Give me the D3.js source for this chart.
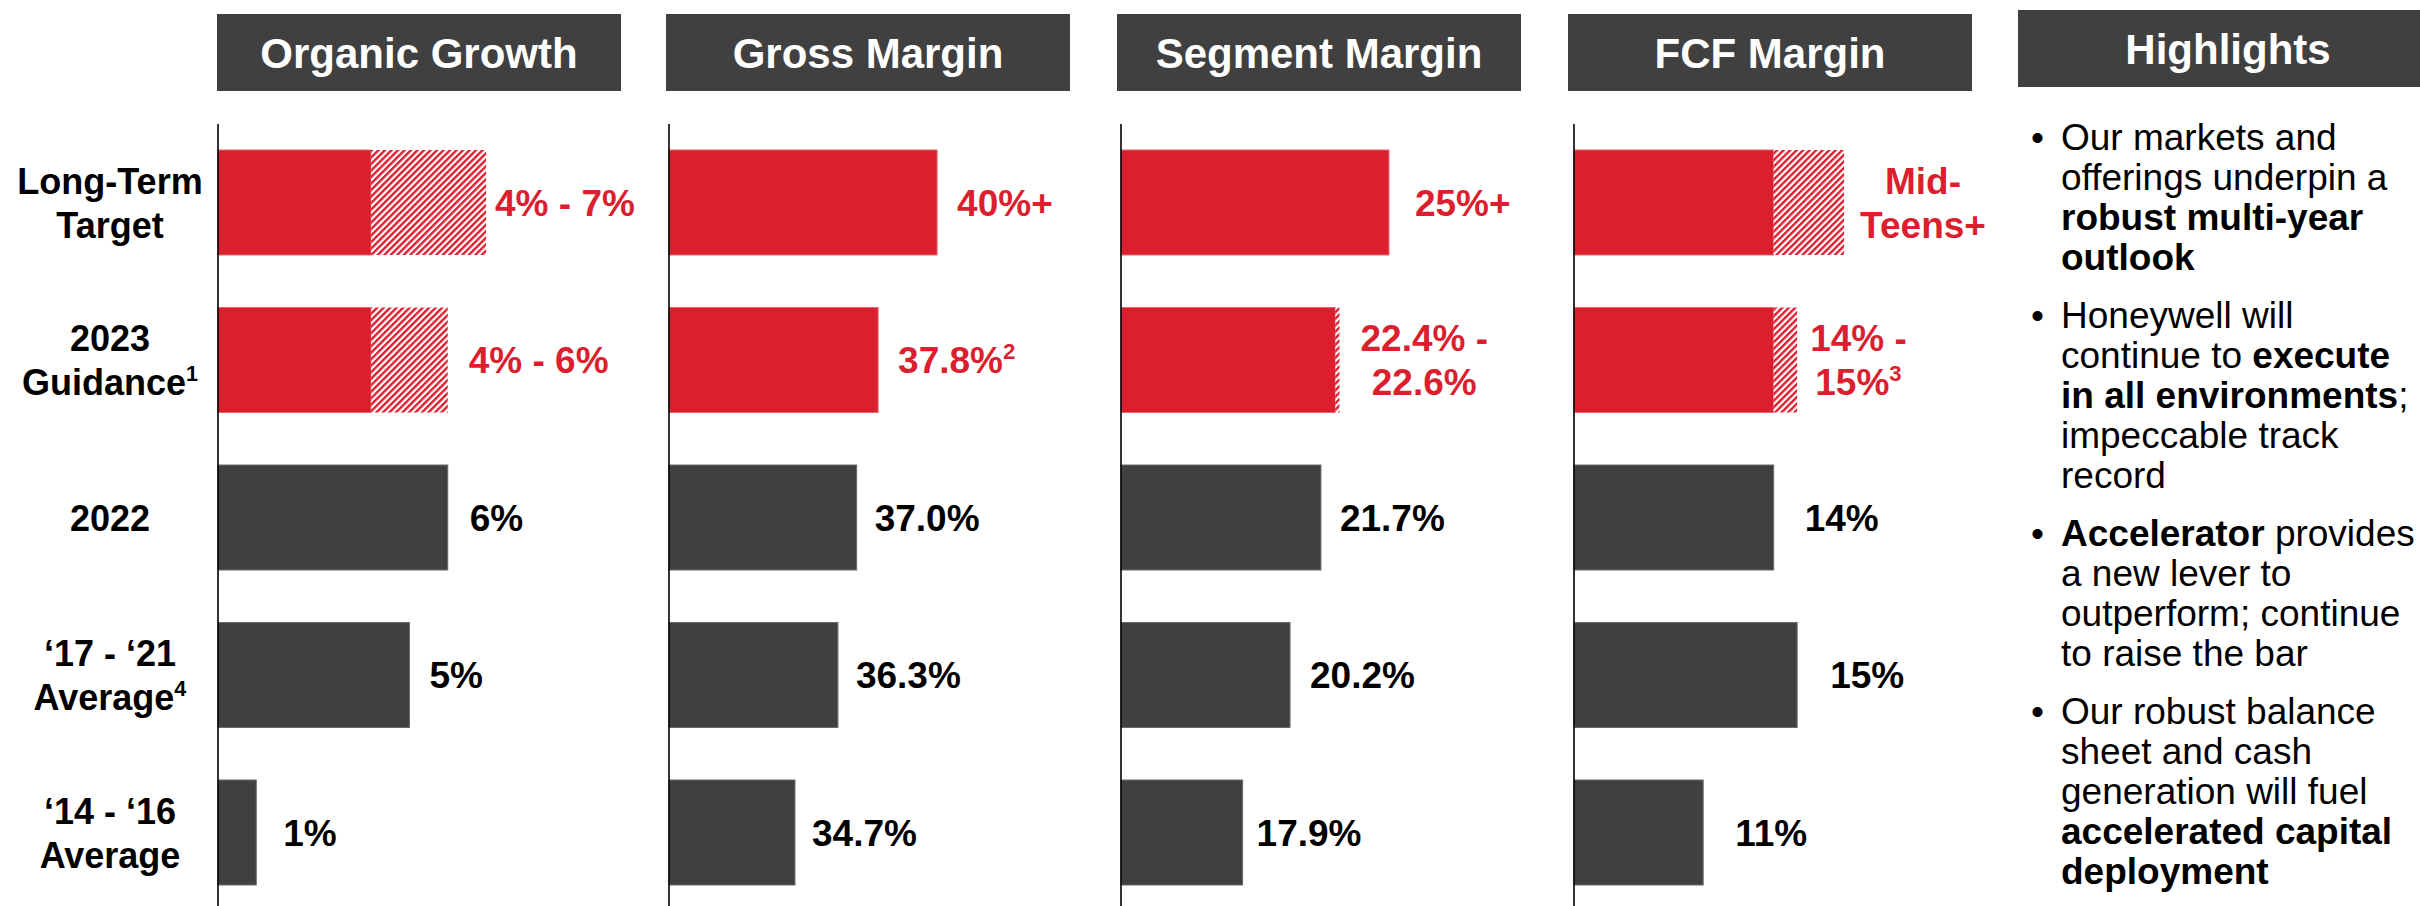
<!DOCTYPE html>
<html>
<head>
<meta charset="utf-8">
<script src="https://cdn.jsdelivr.net/npm/d3@7"></script>
<style>
  html, body { margin: 0; padding: 0; background: #fff; }
  svg { display: block; font-family: "Liberation Sans", Arial, sans-serif; }
  text { white-space: pre; }
</style>
</head>
<body>
<script>
// ---------------- DATA ----------------
const categories = ["Long-Term Target", "2023 Guidance", "2022", "'17 - '21 Average", "'14 - '16 Average"];
// display lines for category labels ("^" marks a superscript)
const categoryLines = [["Long-Term", "Target"], ["2023", "Guidance^1"], ["2022"], ["\u201817 - \u201821", "Average^4"], ["\u201814 - \u201816", "Average"]];
const metrics = ["Organic Growth", "Gross Margin", "Segment Margin", "FCF Margin"];

// solid part (low) and hatched extension (high), in %
const organicLow  = [4, 4, 6, 5, 1];
const organicHigh = [7, 6, 6, 5, 1];
const grossLow    = [40, 37.8, 37.0, 36.3, 34.7];
const grossHigh   = [40, 37.8, 37.0, 36.3, 34.7];
const segmentLow  = [25, 22.4, 21.7, 20.2, 17.9];
const segmentHigh = [25, 22.6, 21.7, 20.2, 17.9];
const fcfLow      = [14, 14, 14, 15, 11];
const fcfHigh     = [17, 15, 14, 15, 11];

// value labels ("|" = line break, "^" = superscript)
const organicLabels = ["4% - 7%", "4% - 6%", "6%", "5%", "1%"];
const grossLabels   = ["40%+", "37.8%^2", "37.0%", "36.3%", "34.7%"];
const segmentLabels = ["25%+", "22.4% -|22.6%", "21.7%", "20.2%", "17.9%"];
const fcfLabels     = ["Mid-|Teens+", "14% -|15%^3", "14%", "15%", "11%"];

// axis domains (value axis starts are not zero for margins)
const organicDomain = [0, 10.55];
const grossDomain   = [30, 45.07];
const segmentDomain = [12, 31.6];
const fcfDomain     = [5.5, 22.7];

// which categories are forward-looking (red)
const forecast = [true, true, false, false, false];

const highlightsTitle = "Highlights";
const highlightBullets = [
  [[["Our markets and", 0]], [["offerings underpin a", 0]], [["robust multi-year", 1]], [["outlook", 1]]],
  [[["Honeywell will", 0]], [["continue to ", 0], ["execute", 1]], [["in all environments", 1], [";", 0]], [["impeccable track", 0]], [["record", 0]]],
  [[["Accelerator", 1], [" provides", 0]], [["a new lever to", 0]], [["outperform; continue", 0]], [["to raise the bar", 0]]],
  [[["Our robust balance", 0]], [["sheet and cash", 0]], [["generation will fuel", 0]], [["accelerated capital", 1]], [["deployment", 1]]]
];

// ---------------- LAYOUT / STYLE ----------------
const W = 2420, H = 906;
const RED = "#DB1F2F", DARK = "#404040";
const panelAxisX   = [218, 669, 1121, 1574];
const panelHeaderX = [217, 666, 1117, 1568];
const panelWidth = 404;
// horizontal gap between bar end and its label (per panel, per row)
const labelGaps = [
  [9, 21, 22, 20, 27],
  [20, 20, 18, 18, 17],
  [26, 21, 19, 20, 14],
  [16, 13, 31, 33, 32]
];

const panels = [
  { name: metrics[0], low: organicLow, high: organicHigh, labels: organicLabels, domain: organicDomain },
  { name: metrics[1], low: grossLow,   high: grossHigh,   labels: grossLabels,   domain: grossDomain },
  { name: metrics[2], low: segmentLow, high: segmentHigh, labels: segmentLabels, domain: segmentDomain },
  { name: metrics[3], low: fcfLow,     high: fcfHigh,     labels: fcfLabels,     domain: fcfDomain }
];

const svg = d3.select("body").append("svg").attr("width", W).attr("height", H);

const defs = svg.append("defs");
const pat = defs.append("pattern").attr("id", "hatch")
  .attr("patternUnits", "userSpaceOnUse").attr("width", 4.6).attr("height", 4.6)
  .attr("patternTransform", "rotate(45)");
pat.append("rect").attr("width", 4.6).attr("height", 4.6).attr("fill", "#fff");
pat.append("rect").attr("width", 2.4).attr("height", 4.6).attr("fill", RED);

const y = d3.scaleBand().domain(categories).range([150, 885]).paddingInner(1 / 3).paddingOuter(0);

// helper: write one line with optional superscript
function writeLine(textSel, str, x, yy, size) {
  const parts = str.split("^");
  textSel.append("tspan").attr("x", x).attr("y", yy).text(parts[0]);
  if (parts[1]) {
    textSel.append("tspan").attr("dy", -size * 0.38).attr("font-size", size * 0.6).text(parts[1]);
  }
}

// category labels
categories.forEach((c, i) => {
  const lines = categoryLines[i];
  const cy = y(c) + y.bandwidth() / 2;
  const t = svg.append("text").attr("text-anchor", "middle").attr("font-weight", "bold")
    .attr("font-size", 36).attr("fill", "#000");
  if (lines.length === 1) {
    writeLine(t, lines[0], 110, cy + 13, 36);
  } else {
    writeLine(t, lines[0], 110, cy - 9, 36);
    writeLine(t, lines[1], 110, cy + 35, 36);
  }
});

// panels
panels.forEach((p, pi) => {
  const ax = panelAxisX[pi];
  const x = d3.scaleLinear().domain(p.domain).range([ax, ax + panelWidth]);
  const g = svg.append("g");

  // header
  g.append("rect").attr("x", panelHeaderX[pi]).attr("y", 14).attr("width", panelWidth).attr("height", 77).attr("fill", DARK);
  g.append("text").attr("x", panelHeaderX[pi] + panelWidth / 2).attr("y", 68)
    .attr("text-anchor", "middle").attr("font-weight", "bold").attr("font-size", 42)
    .attr("fill", "#fff").text(p.name);

  // bars
  categories.forEach((c, i) => {
    const col = forecast[i] ? RED : DARK;
    g.append("rect").attr("x", x(p.domain[0])).attr("y", y(c))
      .attr("width", x(p.low[i]) - x(p.domain[0])).attr("height", y.bandwidth())
      .attr("fill", col)
      .attr("stroke", forecast[i] ? "#E46570" : "#6a6a6a").attr("stroke-width", 1);
    if (p.high[i] > p.low[i]) {
      g.append("rect").attr("x", x(p.low[i])).attr("y", y(c))
        .attr("width", x(p.high[i]) - x(p.low[i])).attr("height", y.bandwidth())
        .attr("fill", "url(#hatch)");
    }
  });

  // axis line
  g.append("line").attr("x1", ax).attr("x2", ax).attr("y1", 124).attr("y2", H)
    .attr("stroke", "#000").attr("stroke-width", 1.6);

  // value labels
  categories.forEach((c, i) => {
    const cy = y(c) + y.bandwidth() / 2;
    const end = x(Math.max(p.low[i], p.high[i]));
    const gap = labelGaps[pi][i];
    const lines = p.labels[i].split("|");
    const t = g.append("text").attr("font-weight", "bold").attr("font-size", 37)
      .attr("fill", forecast[i] ? RED : "#000");
    if (lines.length === 1) {
      t.attr("text-anchor", "start");
      writeLine(t, lines[0], end + gap, cy + 13, 37);
    } else {
      t.attr("text-anchor", "middle");
      writeLine(t, lines[0], 0, cy - 9, 37);
      writeLine(t, lines[1], 0, cy + 35, 37);
      const bb = t.node().getBBox();
      t.attr("transform", `translate(${end + gap - bb.x},0)`);
    }
  });
});

// highlights
const hx = 2018;
svg.append("rect").attr("x", hx).attr("y", 10).attr("width", 430).attr("height", 77).attr("fill", DARK);
svg.append("text").attr("x", 2228).attr("y", 64).attr("text-anchor", "middle")
  .attr("font-weight", "bold").attr("font-size", 42).attr("fill", "#fff").text(highlightsTitle);

let by = 150;
highlightBullets.forEach((bullet) => {
  svg.append("text").attr("x", 2031).attr("y", by).attr("font-size", 37).attr("fill", "#000").text("\u2022");
  bullet.forEach((line) => {
    const t = svg.append("text").attr("x", 2061).attr("y", by).attr("font-size", 37).attr("fill", "#000");
    line.forEach(([s, b]) => {
      t.append("tspan").attr("font-weight", b ? "bold" : "normal").text(s);
    });
    by += 40;
  });
  by += 18;
});
</script>
</body>
</html>
